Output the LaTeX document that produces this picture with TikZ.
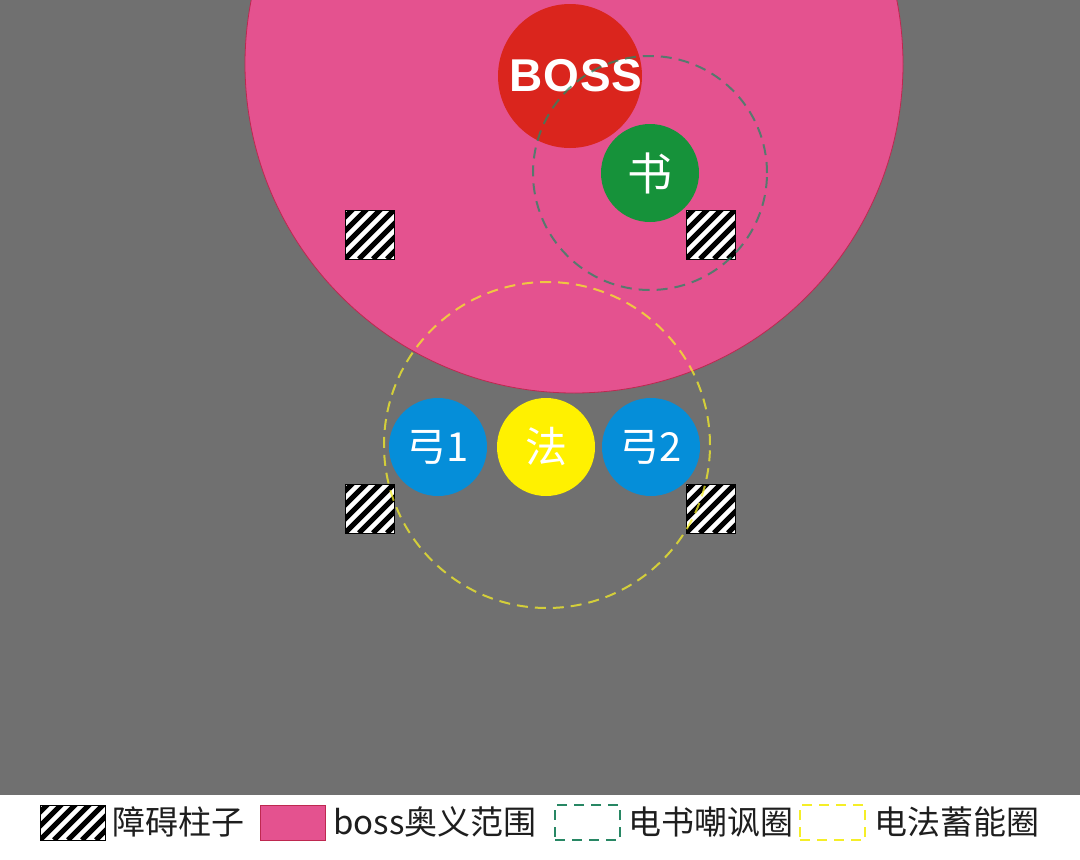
\documentclass[tikz,border=0pt]{standalone}
\usepackage{fontspec}
\setmainfont{Noto Sans CJK SC}
\newfontfamily\bossfont{Liberation Sans}
\definecolor{bggray}{RGB}{112,112,112}
\definecolor{pinkc}{RGB}{228,82,143}
\definecolor{pinkedge}{RGB}{190,40,80}
\definecolor{bossred}{RGB}{218,37,29}
\definecolor{shugreen}{RGB}{22,146,58}
\definecolor{bowblue}{RGB}{5,142,217}
\definecolor{fayellow}{RGB}{255,241,0}
\definecolor{dashgreen}{RGB}{40,135,100}
\definecolor{dashyellow}{RGB}{245,238,40}
\definecolor{legtext}{RGB}{30,30,30}
\begin{document}
\begin{tikzpicture}[x=1pt,y=-1pt,
  hatch/.style={rectangle, draw=black, line width=0.6pt, fill=white, inner sep=0pt,
    path picture={\foreach \k in {-12,...,12} {\draw[black, line width=5pt] ([xshift=\k*14pt]path picture bounding box.south west) -- ++(120pt,120pt);}}},
  disc/.style={circle, inner sep=0pt, text=white},
  ring/.style={circle, inner sep=0pt, line width=2pt, dash pattern=on 11pt off 7pt, draw opacity=0.75},
  legtxt/.style={anchor=west, inner sep=0pt, text=legtext, font=\fontsize{33}{33}\selectfont}
]
\useasboundingbox (0,0) rectangle (1080,860);
\fill[white] (0,0) rectangle (1080,860);
\fill[bggray] (0,0) rectangle (1080,795);
\begin{scope}
\clip (0,0) rectangle (1080,795);
\node[circle, fill=pinkc, draw=pinkedge, line width=0.8pt, minimum size=658, inner sep=0pt] (range) at (574,64) {};
\end{scope}
% boss and book
\node[disc, fill=bossred, minimum size=144] (boss) at (570,76) {};
\node[inner sep=0pt, text=white, font=\bossfont\bfseries\fontsize{46}{46}\selectfont] (bosst) at (576,76) {B\kern1pt O\kern1pt S\kern1pt S};
\node[disc, fill=shugreen, minimum size=98, font=\fontsize{45}{45}\selectfont] (shu) at (650,173) {书};
% pillars
\node[hatch, minimum size=49] (p1) at (369.5,234.5) {};
\node[hatch, minimum size=49] (p2) at (710.5,234.5) {};
\node[hatch, minimum size=49] (p3) at (369.5,508.5) {};
\node[hatch, minimum size=49] (p4) at (710.5,508.5) {};
% taunt ring
\node[ring, draw=dashgreen, minimum size=234] (taunt) at (650,173) {};
% party
\node[disc, fill=bowblue, minimum size=98, font=\fontsize{40}{40}\selectfont] (g1) at (438,447) {弓1};
\node[disc, fill=fayellow, minimum size=98, font=\fontsize{42}{42}\selectfont] (fa) at (546,447) {法};
\node[disc, fill=bowblue, minimum size=98, font=\fontsize{40}{40}\selectfont] (g2) at (651,447) {弓2};
% charge ring
\node[ring, draw=dashyellow, minimum size=326] (charge) at (547,445) {};
% legend
\node[hatch, minimum width=65, minimum height=35] (l1) at (72.5,822.5) {};
\node[legtxt] (t1) at (112,822) {障碍柱子};
\node[rectangle, fill=pinkc, draw=pinkedge, line width=0.6pt, minimum width=65, minimum height=35, inner sep=0pt] (l2) at (292.5,822.5) {};
\node[legtxt] (t2) at (333,822) {boss奥义范围};
\node[rectangle, draw=dashgreen, line width=2pt, dash pattern=on 10pt off 7pt, minimum width=65, minimum height=35, inner sep=0pt] (l3) at (587.5,822.5) {};
\node[legtxt] (t3) at (628,822) {电书嘲讽圈};
\node[rectangle, draw=dashyellow, line width=2pt, dash pattern=on 10pt off 7pt, minimum width=65, minimum height=35, inner sep=0pt] (l4) at (832.5,822.5) {};
\node[legtxt] (t4) at (874,822) {电法蓄能圈};
\end{tikzpicture}
\end{document}
